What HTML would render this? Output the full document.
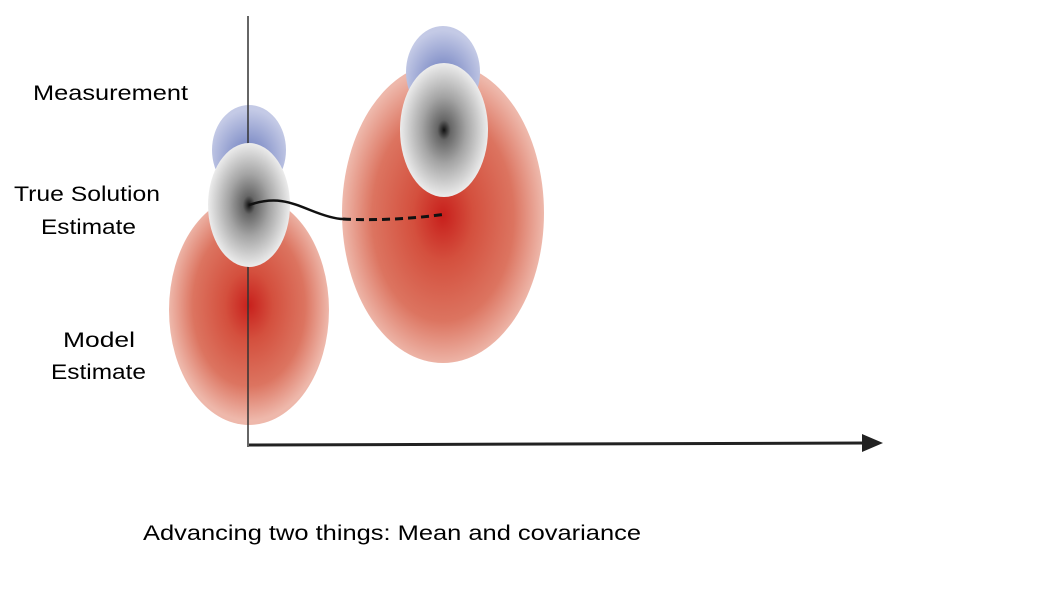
<!DOCTYPE html>
<html><head><meta charset="utf-8"><style>html,body{margin:0;padding:0;background:#fff;}svg{display:block}</style></head>
<body>
<svg width="1037" height="600" viewBox="0 0 1037 600" xmlns="http://www.w3.org/2000/svg">
<defs>
<radialGradient id="red" cx="50%" cy="48%" r="50%">
<stop offset="0" stop-color="#c8201c"/><stop offset="0.3" stop-color="#d4503e"/><stop offset="0.7" stop-color="#dc7460"/><stop offset="1" stop-color="#eeb8ab"/>
</radialGradient>
<radialGradient id="red2" cx="50%" cy="51%" r="50%">
<stop offset="0" stop-color="#c8201c"/><stop offset="0.3" stop-color="#d4503e"/><stop offset="0.7" stop-color="#dc7460"/><stop offset="1" stop-color="#eeb8ab"/>
</radialGradient>
<radialGradient id="blue" cx="50%" cy="60%" r="55%">
<stop offset="0" stop-color="#6677bb"/><stop offset="1" stop-color="#c4cae6"/>
</radialGradient>
<radialGradient id="gray" cx="50%" cy="50%" r="50%">
<stop offset="0" stop-color="#111"/><stop offset="0.15" stop-color="#666"/><stop offset="0.5" stop-color="#a4a4a4"/><stop offset="1" stop-color="#ececec"/>
</radialGradient>
</defs>
<ellipse cx="249" cy="310" rx="80" ry="115" fill="url(#red)"/>
<ellipse cx="443" cy="213" rx="101" ry="150" fill="url(#red2)"/>
<ellipse cx="249" cy="150" rx="37" ry="45" fill="url(#blue)"/>
<ellipse cx="443" cy="72" rx="37" ry="46" fill="url(#blue)"/>
<line x1="248" y1="16" x2="248" y2="447" stroke="#333" stroke-width="1.5"/>
<ellipse cx="249" cy="205" rx="41" ry="62" fill="url(#gray)"/>
<ellipse cx="444" cy="130" rx="44" ry="67" fill="url(#gray)"/>
<path d="M249 205 C275 196 290 202 310 210 C325 216 335 219 343 219" fill="none" stroke="#111" stroke-width="2.5"/>
<path d="M343 219 C380 221 420 218 446 214" fill="none" stroke="#111" stroke-width="3" stroke-dasharray="8 5"/>
<line x1="249" y1="445" x2="866" y2="443" stroke="#222" stroke-width="3"/>
<polygon points="862,434 883,443 862,452" fill="#222"/>
<g font-family="'Liberation Sans', sans-serif" font-size="21" fill="#000">
<text x="33" y="100" textLength="155" lengthAdjust="spacingAndGlyphs">Measurement</text>
<text x="14" y="201" textLength="146" lengthAdjust="spacingAndGlyphs">True Solution</text>
<text x="41" y="234" textLength="95" lengthAdjust="spacingAndGlyphs">Estimate</text>
<text x="63" y="347" textLength="72" lengthAdjust="spacingAndGlyphs">Model</text>
<text x="51" y="379" textLength="95" lengthAdjust="spacingAndGlyphs">Estimate</text>
<text x="143" y="540" textLength="498" lengthAdjust="spacingAndGlyphs">Advancing two things:  Mean and covariance</text>
</g>
</svg>
</body></html>
